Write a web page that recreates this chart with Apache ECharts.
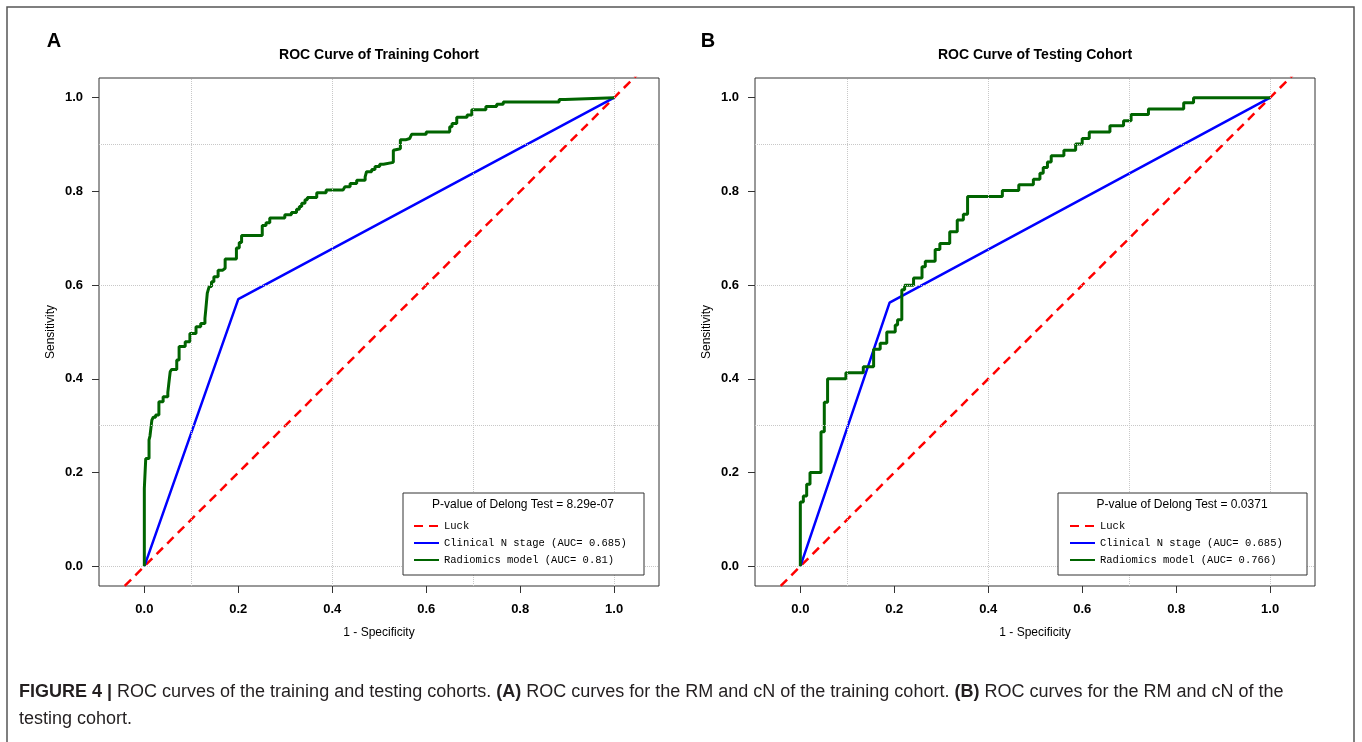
<!DOCTYPE html>
<html>
<head>
<meta charset="utf-8">
<title>ROC curves</title>
<script src="https://cdn.jsdelivr.net/npm/echarts@6/dist/echarts.min.js"></script>
<style>
  html, body { margin: 0; padding: 0; background: #fff; }
  #main { width: 1362px; height: 742px; }
</style>
</head>
<body>
<div id="main"></div>
<script>
// tick + grid values
var tickValues = [0, 0.2, 0.4, 0.6, 0.8, 1.0];
var gridX = [0.1, 0.4, 0.7, 1.0];
var gridY = [0, 0.3, 0.6, 0.9];

// chance line
var luckX = [-0.2, 1.2];
var luckY = [-0.2, 1.2];

// clinical N stage
var clinTrainX = [0, 0.2, 1];
var clinTrainY = [0, 0.57, 1];
var clinTestX = [0, 0.19, 1];
var clinTestY = [0, 0.5625, 1];

// radiomics model, training cohort (corner after each rise)
var radTrainX = [0, 0, 0.003, 0.010, 0.012, 0.016, 0.019, 0.024, 0.031, 0.040, 0.050, 0.052, 0.055, 0.058, 0.069, 0.074,
  0.087, 0.097, 0.110, 0.120, 0.129, 0.131, 0.134, 0.138, 0.143, 0.148, 0.157, 0.167, 0.172, 0.196, 0.202, 0.207,
  0.251, 0.259, 0.267, 0.299, 0.313, 0.324, 0.330, 0.335, 0.342, 0.347, 0.367, 0.387, 0.423, 0.427, 0.438, 0.452,
  0.470, 0.473, 0.484, 0.491, 0.501, 0.509, 0.530, 0.534, 0.545, 0.556, 0.565, 0.569, 0.600, 0.650, 0.655, 0.665,
  0.687, 0.697, 0.727, 0.750, 0.764, 0.883, 0.895, 1.000];
var radTrainY = [0, 0.166, 0.230, 0.270, 0.278, 0.312, 0.318, 0.323, 0.351, 0.362, 0.371, 0.389, 0.415, 0.420, 0.440, 0.469,
  0.479, 0.497, 0.511, 0.518, 0.529, 0.550, 0.583, 0.597, 0.607, 0.618, 0.632, 0.636, 0.656, 0.679, 0.691, 0.706,
  0.727, 0.733, 0.743, 0.750, 0.755, 0.762, 0.768, 0.775, 0.782, 0.787, 0.797, 0.803, 0.806, 0.810, 0.817, 0.824,
  0.831, 0.842, 0.847, 0.853, 0.858, 0.862, 0.888, 0.891, 0.910, 0.913, 0.917, 0.922, 0.927, 0.938, 0.945, 0.958,
  0.963, 0.974, 0.981, 0.986, 0.991, 0.996, 1.000, 1.000];

// radiomics model, testing cohort
var radTestX = [0, 0, 0.0064, 0.0135, 0.0206, 0.044, 0.051, 0.058, 0.097, 0.134, 0.156, 0.170, 0.184, 0.202, 0.207, 0.216,
  0.222, 0.241, 0.259, 0.266, 0.287, 0.297, 0.318, 0.334, 0.347, 0.356, 0.430, 0.465, 0.496, 0.510, 0.517, 0.526,
  0.534, 0.561, 0.586, 0.600, 0.615, 0.659, 0.688, 0.704, 0.741, 0.816, 0.837, 1.000];
var radTestY = [0, 0.137, 0.150, 0.175, 0.200, 0.287, 0.350, 0.400, 0.413, 0.426, 0.463, 0.476, 0.500, 0.515, 0.526, 0.590,
  0.600, 0.615, 0.639, 0.651, 0.676, 0.689, 0.714, 0.739, 0.751, 0.789, 0.802, 0.814, 0.826, 0.839, 0.851, 0.863,
  0.876, 0.888, 0.901, 0.913, 0.927, 0.940, 0.951, 0.964, 0.976, 0.989, 1.000, 1.000];

var luckName = 'Luck';
var clinName = 'Clinical N stage (AUC= 0.685)';
var radTrainName = 'Radiomics model (AUC= 0.81)';
var radTestName = 'Radiomics model (AUC= 0.766)';

function pairs(xs, ys) {
  var out = [];
  for (var i = 0; i < xs.length; i++) out.push([xs[i], ys[i]]);
  return out;
}

var chart = echarts.init(document.getElementById('main'));
var FONT = 'Liberation Sans, Arial, sans-serif';

function xAx(idx) {
  return {
    type: 'value', gridIndex: idx, min: -0.0965, max: 1.0955,
    name: '1 - Specificity', nameLocation: 'middle', nameGap: 41,
    nameTextStyle: { fontFamily: FONT, fontSize: 12, color: '#000' },
    axisLine: { show: false, onZero: false },
    axisTick: { show: true, length: 7, customValues: tickValues, lineStyle: { color: '#333' } },
    axisLabel: { customValues: tickValues, margin: 17, fontFamily: FONT, fontSize: 13, fontWeight: 'bold', color: '#000',
      formatter: function (v) { return v.toFixed(1); } },
    splitLine: { show: false }
  };
}
function yAx(idx) {
  return {
    type: 'value', gridIndex: idx, min: -0.042, max: 1.042,
    name: 'Sensitivity', nameLocation: 'middle', nameGap: 42, nameRotate: 90,
    nameTextStyle: { fontFamily: FONT, fontSize: 12, color: '#000' },
    axisLine: { show: false, onZero: false },
    axisTick: { show: true, length: 7, customValues: tickValues, lineStyle: { color: '#333' } },
    axisLabel: { customValues: tickValues, margin: 16, fontFamily: FONT, fontSize: 13, fontWeight: 'bold', color: '#000',
      formatter: function (v) { return v.toFixed(1); } },
    splitLine: { show: false }
  };
}

function gridSeries(idx) {
  var d = [];
  gridX.forEach(function (v) { d.push({ xAxis: v }); });
  gridY.forEach(function (v) { d.push({ yAxis: v }); });
  return {
    type: 'line', xAxisIndex: idx, yAxisIndex: idx, data: [], z: 1, silent: true,
    markLine: {
      silent: true, symbol: ['none', 'none'], label: { show: false },
      lineStyle: { type: 'dotted', color: '#c8c8c8', width: 1 },
      data: d
    }
  };
}

function luckSeries(idx) {
  return {
    name: luckName, type: 'line', xAxisIndex: idx, yAxisIndex: idx, data: pairs(luckX, luckY),
    symbol: 'none', z: 2, clip: true,
    lineStyle: { color: '#ff0000', width: 2.5, type: [9, 6] }, itemStyle: { color: '#ff0000' }
  };
}
function clinSeries(idx, xs, ys) {
  return {
    name: clinName, type: 'line', xAxisIndex: idx, yAxisIndex: idx, data: pairs(xs, ys),
    symbol: 'none', z: 3,
    lineStyle: { color: '#0000ff', width: 2.5 }, itemStyle: { color: '#0000ff' }
  };
}
function radSeries(idx, name, xs, ys) {
  return {
    name: name, type: 'line', xAxisIndex: idx, yAxisIndex: idx, data: pairs(xs, ys),
    symbol: 'none', step: 'end', z: 4,
    lineStyle: { color: '#006400', width: 3 }, itemStyle: { color: '#006400' }
  };
}

function legendAt(left, names) {
  return {
    orient: 'vertical', left: left, top: 515, itemWidth: 25, itemHeight: 12, itemGap: 5,
    selectedMode: false, z: 30, data: names,
    itemStyle: { opacity: 0 },
    textStyle: { fontFamily: 'Liberation Mono, monospace', fontSize: 10.5, color: '#000', lineHeight: 12 }
  };
}

function boxGraphic(x, w, text, cx) {
  return [
    { type: 'rect', z: 20, shape: { x: x, y: 493, width: w, height: 82 },
      style: { fill: '#fff', stroke: '#333', lineWidth: 1 } },
    { type: 'text', z: 25, x: cx, y: 505,
      style: { text: text, font: '12px ' + FONT, fill: '#000', align: 'center', verticalAlign: 'middle' } }
  ];
}

var option = {
  animation: false,
  backgroundColor: '#fff',
  grid: [
    { left: 99, top: 78, width: 560, height: 508, show: true, borderColor: '#333', borderWidth: 1, backgroundColor: 'transparent' },
    { left: 755, top: 78, width: 560, height: 508, show: true, borderColor: '#333', borderWidth: 1, backgroundColor: 'transparent' }
  ],
  xAxis: [xAx(0), xAx(1)],
  yAxis: [yAx(0), yAx(1)],
  legend: [
    legendAt(408, [luckName, clinName, radTrainName]),
    legendAt(1064, [luckName, clinName, radTestName])
  ],
  series: [
    gridSeries(0), luckSeries(0), clinSeries(0, clinTrainX, clinTrainY), radSeries(0, radTrainName, radTrainX, radTrainY),
    gridSeries(1), luckSeries(1), clinSeries(1, clinTestX, clinTestY), radSeries(1, radTestName, radTestX, radTestY)
  ],
  graphic: [
    { type: 'rect', z: 0, silent: true, shape: { x: 7, y: 7, width: 1347, height: 800 },
      style: { fill: 'none', stroke: '#555', lineWidth: 1.5 } },
    { type: 'text', x: 54, y: 41, style: { text: 'A', font: 'bold 20px ' + FONT, fill: '#000', align: 'center', verticalAlign: 'middle' } },
    { type: 'text', x: 708, y: 41, style: { text: 'B', font: 'bold 20px ' + FONT, fill: '#000', align: 'center', verticalAlign: 'middle' } },
    { type: 'text', x: 379, y: 55, style: { text: 'ROC Curve of Training Cohort', font: 'bold 14px ' + FONT, fill: '#000', align: 'center', verticalAlign: 'middle' } },
    { type: 'text', x: 1035, y: 55, style: { text: 'ROC Curve of Testing Cohort', font: 'bold 14px ' + FONT, fill: '#000', align: 'center', verticalAlign: 'middle' } }
  ]
    .concat(boxGraphic(403, 241, 'P-value of Delong Test = 8.29e-07', 523))
    .concat(boxGraphic(1058, 249, 'P-value of Delong Test = 0.0371', 1182))
    .concat([
      { type: 'text', x: 19, y: 692,
        style: {
          text: '{b|FIGURE 4 |} ROC curves of the training and testing cohorts. {b|(A)} ROC curves for the RM and cN of the training cohort. {b|(B)} ROC curves for the RM and cN of the',
          font: '18px ' + FONT, fill: '#231f20', verticalAlign: 'middle',
          rich: { b: { font: 'bold 18px ' + FONT, fill: '#231f20' } }
        } },
      { type: 'text', x: 19, y: 719,
        style: { text: 'testing cohort.', font: '18px ' + FONT, fill: '#231f20', verticalAlign: 'middle' } }
    ])
};

chart.setOption(option);
</script>
</body>
</html>
